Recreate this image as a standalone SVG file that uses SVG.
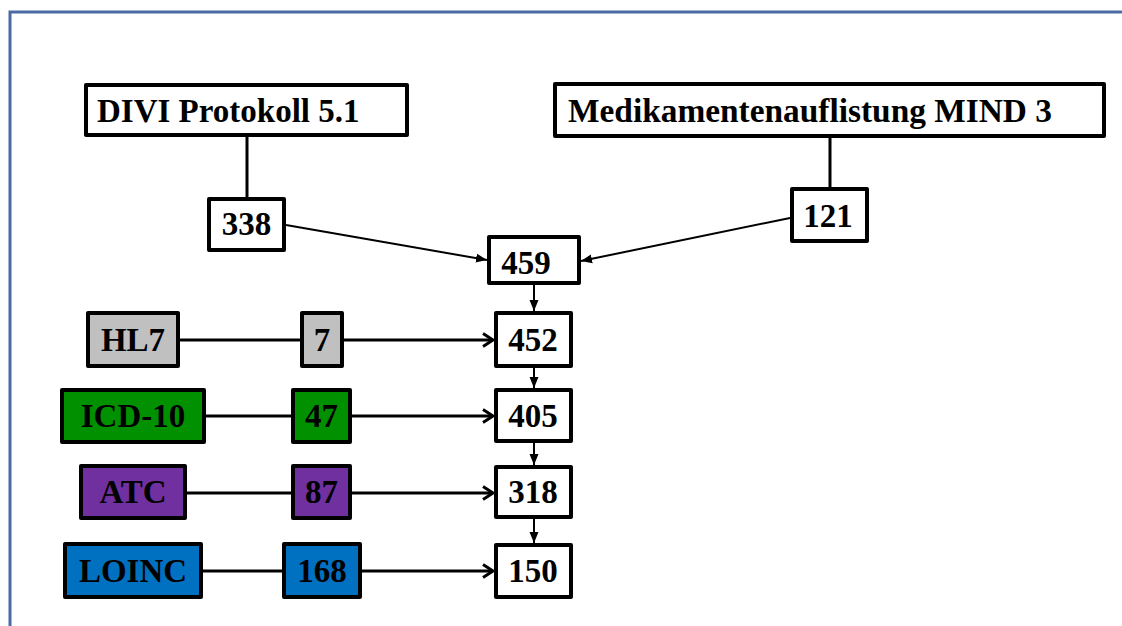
<svg xmlns="http://www.w3.org/2000/svg" width="1122" height="626" viewBox="0 0 1122 626">
  <style>
    .box { stroke: #000; stroke-width: 4; stroke-linejoin: round; }
    .white { fill: #fff; }
    .gray { fill: #c0c0c0; }
    .green { fill: #009000; }
    .purple { fill: #7030a0; }
    .blue { fill: #0070c0; }
    .lbl { font-family: "Liberation Serif", "Times New Roman", serif; font-weight: bold; font-size: 33px; fill: #000; }
    .mid { text-anchor: middle; }
    .link { stroke: #000; fill: none; }
    .thick { stroke-width: 3; }
    .thin { stroke-width: 2; }
  </style>
  <defs>
    <marker id="chevron" markerUnits="userSpaceOnUse" markerWidth="14" markerHeight="16" refX="11" refY="8" orient="auto">
      <path d="M1,1.5 L11,8 L1,14.5" fill="none" stroke="#000" stroke-width="3"/>
    </marker>
    <marker id="tri" markerUnits="userSpaceOnUse" markerWidth="12" markerHeight="10" refX="11" refY="5" orient="auto">
      <path d="M0,0.5 L11,5 L0,9.5 Z" fill="#000"/>
    </marker>
  </defs>

  <rect width="1122" height="626" fill="#fff"/>

  <!-- page frame -->
  <path d="M10,626 L10,12 L1122,12" fill="none" stroke="#4a6ca3" stroke-width="3"/>

  <!-- connectors -->
  <g id="connectors">
    <line class="link thick" x1="247" y1="137" x2="247" y2="197"/>
    <line class="link thick" x1="830" y1="138" x2="830" y2="187"/>
    <line class="link thin" x1="286" y1="225" x2="487" y2="260" marker-end="url(#tri)"/>
    <line class="link thin" x1="790" y1="218" x2="581" y2="261" marker-end="url(#tri)"/>
    <line class="link thin" x1="534" y1="285" x2="534" y2="311" marker-end="url(#tri)"/>
    <line class="link thin" x1="534" y1="368" x2="534" y2="388" marker-end="url(#tri)"/>
    <line class="link thin" x1="534" y1="443" x2="534" y2="465" marker-end="url(#tri)"/>
    <line class="link thin" x1="534" y1="519" x2="534" y2="543" marker-end="url(#tri)"/>

    <line class="link thick" x1="180" y1="340" x2="300" y2="340"/>
    <line class="link thick" x1="344" y1="340" x2="493" y2="340" marker-end="url(#chevron)"/>
    <line class="link thick" x1="206" y1="416" x2="291" y2="416"/>
    <line class="link thick" x1="352" y1="416" x2="493" y2="416" marker-end="url(#chevron)"/>
    <line class="link thick" x1="187" y1="493" x2="291" y2="493"/>
    <line class="link thick" x1="352" y1="493" x2="493" y2="493" marker-end="url(#chevron)"/>
    <line class="link thick" x1="203" y1="571" x2="282" y2="571"/>
    <line class="link thick" x1="362" y1="571" x2="493" y2="571" marker-end="url(#chevron)"/>
  </g>

  <!-- sources -->
  <g id="divi">
    <rect class="box white" x="86" y="85" width="321" height="50"/>
    <text class="lbl" x="97" y="122">DIVI Protokoll 5.1</text>
  </g>
  <g id="mind">
    <rect class="box white" x="555" y="84" width="549" height="52"/>
    <text class="lbl" x="568" y="122" textLength="484" lengthAdjust="spacingAndGlyphs">Medikamentenauflistung MIND 3</text>
  </g>
  <g id="n338">
    <rect class="box white" x="209" y="199" width="75" height="51"/>
    <text class="lbl mid" x="246.5" y="235">338</text>
  </g>
  <g id="n121">
    <rect class="box white" x="792" y="189" width="75" height="52"/>
    <text class="lbl mid" x="828" y="227">121</text>
  </g>

  <!-- filtering chain -->
  <g id="n459">
    <rect class="box white" x="489" y="237" width="90" height="46"/>
    <text class="lbl mid" x="526" y="274">459</text>
  </g>
  <g id="n452">
    <rect class="box white" x="496" y="313" width="75" height="53"/>
    <text class="lbl mid" x="533" y="351">452</text>
  </g>
  <g id="n405">
    <rect class="box white" x="496" y="390" width="75" height="51"/>
    <text class="lbl mid" x="533" y="427">405</text>
  </g>
  <g id="n318">
    <rect class="box white" x="496" y="467" width="75" height="50"/>
    <text class="lbl mid" x="533" y="503">318</text>
  </g>
  <g id="n150">
    <rect class="box white" x="496" y="545" width="75" height="52"/>
    <text class="lbl mid" x="533" y="582">150</text>
  </g>

  <!-- terminologies -->
  <g id="hl7">
    <rect class="box gray" x="88" y="313" width="90" height="53"/>
    <text class="lbl mid" x="133" y="351">HL7</text>
  </g>
  <g id="hl7-count">
    <rect class="box gray" x="302" y="313" width="40" height="53"/>
    <text class="lbl mid" x="322" y="351">7</text>
  </g>
  <g id="icd10">
    <rect class="box green" x="62" y="390" width="142" height="52"/>
    <text class="lbl mid" x="133" y="427">ICD-10</text>
  </g>
  <g id="icd10-count">
    <rect class="box green" x="293" y="390" width="57" height="52"/>
    <text class="lbl mid" x="321.5" y="427">47</text>
  </g>
  <g id="atc">
    <rect class="box purple" x="81" y="466" width="104" height="52"/>
    <text class="lbl mid" x="133" y="503">ATC</text>
  </g>
  <g id="atc-count">
    <rect class="box purple" x="293" y="466" width="57" height="52"/>
    <text class="lbl mid" x="321.5" y="503">87</text>
  </g>
  <g id="loinc">
    <rect class="box blue" x="65" y="544" width="136" height="53"/>
    <text class="lbl mid" x="133" y="582">LOINC</text>
  </g>
  <g id="loinc-count">
    <rect class="box blue" x="284" y="544" width="76" height="53"/>
    <text class="lbl mid" x="322" y="582">168</text>
  </g>
</svg>
